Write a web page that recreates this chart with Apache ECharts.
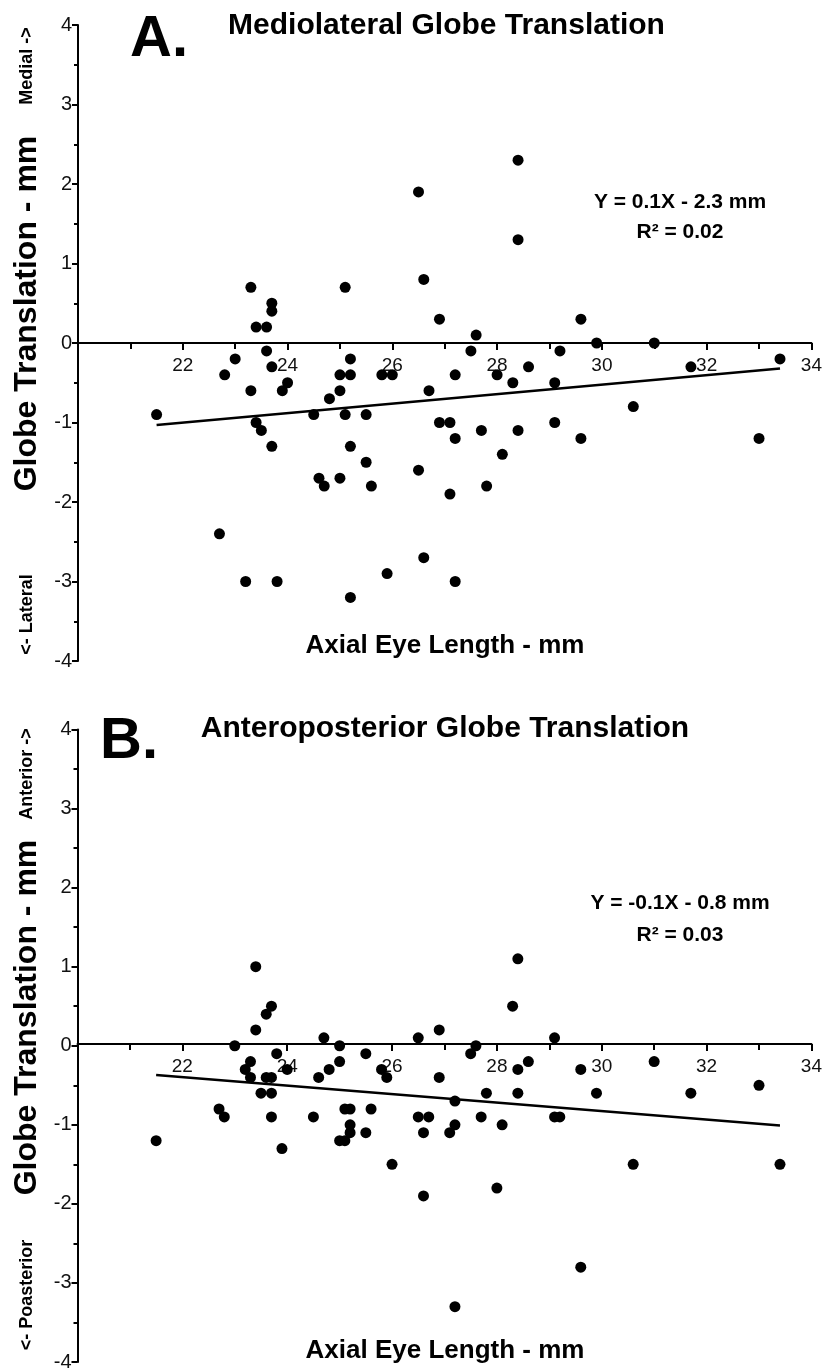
<!DOCTYPE html>
<html>
<head>
<meta charset="utf-8">
<script src="https://cdn.jsdelivr.net/npm/echarts@6/dist/echarts.min.js"></script>
<style>
html,body{margin:0;padding:0;background:#fff;}
#chart{width:825px;height:1372px;}
</style>
</head>
<body>
<div id="chart"></div>
<script>
// ---- Data ----
const xTicks = [20, 22, 24, 26, 28, 30, 32, 34];
const yTicks = [-4, -3, -2, -1, 0, 1, 2, 3, 4];

// Panel A: Mediolateral globe translation
const axialA = [21.5,22.7,22.8,23.0,23.2,23.3,23.3,23.4,23.4,23.5,23.6,23.6,23.7,23.7,23.7,23.7,23.8,23.9,24.0,24.5,24.6,24.7,24.8,25.0,25.0,25.0,25.1,25.1,25.2,25.2,25.2,25.2,25.5,25.5,25.6,25.8,25.9,26.0,26.5,26.5,26.6,26.6,26.7,26.9,26.9,27.1,27.1,27.2,27.2,27.2,27.5,27.6,27.7,27.8,28.0,28.1,28.3,28.4,28.4,28.4,28.6,29.1,29.1,29.2,29.6,29.6,29.9,30.6,31.0,31.7,33.0,33.4];
const transA = [-0.9,-2.4,-0.4,-0.2,-3.0,0.7,-0.6,0.2,-1.0,-1.1,0.2,-0.1,0.5,0.4,-0.3,-1.3,-3.0,-0.6,-0.5,-0.9,-1.7,-1.8,-0.7,-0.4,-0.6,-1.7,0.7,-0.9,-0.2,-0.4,-1.3,-3.2,-0.9,-1.5,-1.8,-0.4,-2.9,-0.4,1.9,-1.6,0.8,-2.7,-0.6,0.3,-1.0,-1.0,-1.9,-0.4,-1.2,-3.0,-0.1,0.1,-1.1,-1.8,-0.4,-1.4,-0.5,2.3,1.3,-1.1,-0.3,-0.5,-1.0,-0.1,0.3,-1.2,0.0,-0.8,0.0,-0.3,-1.2,-0.2];
const fitAX = [21.5, 33.4];
const fitAY = [-1.03, -0.32];

// Panel B: Anteroposterior globe translation
const axialB = [21.5,22.7,22.8,23.0,23.2,23.3,23.3,23.4,23.4,23.5,23.6,23.6,23.7,23.7,23.7,23.7,23.8,23.9,24.0,24.5,24.6,24.7,24.8,25.0,25.0,25.0,25.1,25.1,25.2,25.2,25.2,25.5,25.5,25.6,25.8,25.9,26.0,26.5,26.5,26.6,26.6,26.7,26.9,26.9,27.1,27.2,27.2,27.2,27.5,27.6,27.7,27.8,28.0,28.1,28.3,28.4,28.4,28.4,28.6,29.1,29.1,29.2,29.6,29.6,29.9,30.6,31.0,31.7,33.0,33.4];
const transB = [-1.2,-0.8,-0.9,0.0,-0.3,-0.2,-0.4,1.0,0.2,-0.6,0.4,-0.4,0.5,-0.4,-0.6,-0.9,-0.1,-1.3,-0.3,-0.9,-0.4,0.1,-0.3,0.0,-0.2,-1.2,-0.8,-1.2,-0.8,-1.0,-1.1,-0.1,-1.1,-0.8,-0.3,-0.4,-1.5,0.1,-0.9,-1.1,-1.9,-0.9,0.2,-0.4,-1.1,-0.7,-1.0,-3.3,-0.1,0.0,-0.9,-0.6,-1.8,-1.0,0.5,1.1,-0.3,-0.6,-0.2,0.1,-0.9,-0.9,-0.3,-2.8,-0.6,-1.5,-0.2,-0.6,-0.5,-1.5];
const fitBX = [21.5, 33.4];
const fitBY = [-0.37, -1.01];

const titles = ['Mediolateral Globe Translation', 'Anteroposterior Globe Translation'];
const panelLetters = ['A.', 'B.'];
const upLabels = ['Medial ->', 'Anterior ->'];
const downLabels = ['<- Lateral', '<- Poasterior'];
const yName = 'Globe Translation - mm';
const xName = 'Axial Eye Length - mm';
const equations = ['Y = 0.1X - 2.3 mm', 'Y = -0.1X - 0.8 mm'];
const r2 = ['R² = 0.02', 'R² = 0.03'];

// ---- Build ----
const FONT = '"Liberation Sans", Arial, sans-serif';
const zip = (a, b) => a.map((v, i) => [v, b[i]]);

const grids = [
  { left: 78, top: 25, width: 734, height: 636 },
  { left: 77.5, top: 729.5, width: 734, height: 636 }
];
const yMin = yTicks[0], yMax = yTicks[yTicks.length - 1];

function xAxisCfg(gi) {
  // place the x axis at y = 0 by shifting it up from the grid bottom
  const zeroOffset = -grids[gi].height * (0 - yMin) / (yMax - yMin);
  return {
    type: 'value', gridIndex: gi, min: xTicks[0], max: xTicks[xTicks.length - 1], interval: 2,
    position: 'bottom', offset: zeroOffset,
    axisLine: { onZero: false, lineStyle: { color: '#000', width: 2 } },
    axisTick: { show: true, length: 7, lineStyle: { color: '#000', width: 2 } },
    minorTick: { show: true, splitNumber: 2, length: 6, lineStyle: { color: '#000', width: 2 } },
    splitLine: { show: false },
    axisLabel: {
      color: '#111', fontFamily: FONT, fontSize: 19, margin: 13,
      formatter: v => (v === xTicks[0] ? '' : String(v))
    }
  };
}
function yAxisCfg(gi) {
  return {
    type: 'value', gridIndex: gi, min: yMin, max: yMax, interval: 1,
    axisLine: { show: true, onZero: false, lineStyle: { color: '#000', width: 2 } },
    axisTick: { show: true, length: 6, lineStyle: { color: '#000', width: 2 } },
    minorTick: { show: true, splitNumber: 2, length: 4, lineStyle: { color: '#000', width: 2 } },
    splitLine: { show: false },
    axisLabel: { color: '#111', fontFamily: FONT, fontSize: 20, margin: 6 }
  };
}

function txt(text, x, y, size, opts) {
  opts = opts || {};
  return {
    type: 'text', x: x, y: y, rotation: opts.rot || 0,
    style: {
      text: text, fill: '#000', font: (opts.weight || 'bold') + ' ' + size + 'px ' + FONT,
      textAlign: opts.align || 'center', textVerticalAlign: 'middle'
    }
  };
}

const R = Math.PI / 2;
const option = {
  backgroundColor: '#fff',
  animation: false,
  grid: grids,
  xAxis: [xAxisCfg(0), xAxisCfg(1)],
  yAxis: [yAxisCfg(0), yAxisCfg(1)],
  series: [
    { type: 'scatter', xAxisIndex: 0, yAxisIndex: 0, data: zip(axialA, transA), symbolSize: 11, itemStyle: { color: '#000', opacity: 1 } },
    { type: 'line', xAxisIndex: 0, yAxisIndex: 0, data: zip(fitAX, fitAY), showSymbol: false, symbol: 'none', lineStyle: { color: '#000', width: 2.5 } },
    { type: 'scatter', xAxisIndex: 1, yAxisIndex: 1, data: zip(axialB, transB), symbolSize: 11, itemStyle: { color: '#000', opacity: 1 } },
    { type: 'line', xAxisIndex: 1, yAxisIndex: 1, data: zip(fitBX, fitBY), showSymbol: false, symbol: 'none', lineStyle: { color: '#000', width: 2.5 } }
  ],
  graphic: [
    txt(panelLetters[0], 130, 40, 58, { align: 'left' }),
    txt(titles[0], 446.5, 26, 30),
    txt(panelLetters[1], 100, 742, 58, { align: 'left' }),
    txt(titles[1], 445, 729, 30),
    txt(yName, 27, 313.5, 32, { rot: R }),
    txt(yName, 27, 1017.5, 32, { rot: R }),
    txt(upLabels[0], 27, 66, 18, { rot: R }),
    txt(downLabels[0], 27, 614.5, 18, { rot: R }),
    txt(upLabels[1], 27, 774, 18, { rot: R }),
    txt(downLabels[1], 27, 1295, 18, { rot: R }),
    txt(xName, 445, 646, 26),
    txt(xName, 445, 1351, 26),
    txt(equations[0], 680, 202, 21),
    txt(r2[0], 680, 232, 21),
    txt(equations[1], 680, 903, 21),
    txt(r2[1], 680, 935, 21)
  ]
};

const chart = echarts.init(document.getElementById('chart'), null, { renderer: 'canvas' });
chart.setOption(option);
</script>
</body>
</html>
